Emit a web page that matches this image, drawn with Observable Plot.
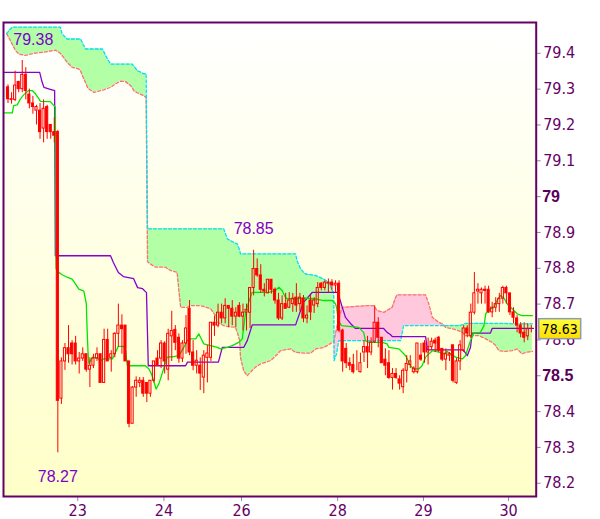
<!DOCTYPE html>
<html><head><meta charset="utf-8">
<script src="https://cdn.jsdelivr.net/npm/d3@7"></script>
<script src="https://cdn.jsdelivr.net/npm/@observablehq/plot@0.6"></script>
<style>
html,body{margin:0;padding:0;background:#fff;}
#chart{width:600px;height:519px;}
</style></head><body><div id="chart"></div>
<script>
// ---- Candles (hourly bars, index 0..147) ----
const opens = [79.305,79.272,79.270,79.320,79.300,79.340,79.285,79.260,79.240,79.240,79.190,79.250,79.200,79.180,79.180,
78.436,78.540,78.577,78.590,78.590,78.540,78.548,78.560,78.517,78.528,78.548,78.560,78.480,78.600,78.550,
78.560,78.617,78.640,78.640,78.540,78.366,78.467,78.480,78.486,78.480,78.450,78.486,78.548,78.548,78.590,
78.517,78.610,78.628,78.606,78.548,78.590,78.687,78.565,78.528,78.528,78.495,78.550,78.550,78.648,78.640,
78.676,78.660,78.695,78.687,78.665,78.695,78.665,78.676,78.676,78.745,78.798,78.780,78.740,78.730,78.768,
78.740,78.710,78.660,78.700,78.690,78.700,78.718,78.700,78.715,78.660,78.710,78.696,78.700,78.757,78.745,
78.757,78.760,78.752,78.757,78.626,78.575,78.535,78.530,78.540,78.510,78.565,78.580,78.565,78.593,78.648,
78.606,78.545,78.535,78.494,78.505,78.490,78.468,78.514,78.530,78.510,78.510,78.556,78.590,78.565,78.580,
78.598,78.606,78.575,78.545,78.556,78.585,78.480,78.540,78.570,78.632,78.610,78.676,78.735,78.730,78.740,
78.740,78.677,78.690,78.700,78.715,78.745,78.730,78.677,78.660,78.640,78.620,78.610,78.630];
const highs = [79.312,79.290,79.350,79.322,79.380,79.360,79.300,79.280,79.255,79.260,79.270,79.255,79.200,79.220,79.185,
78.550,78.590,78.640,78.598,78.610,78.565,78.578,78.560,78.550,78.560,78.578,78.560,78.630,78.630,78.570,
78.620,78.700,78.670,78.640,78.540,78.470,78.497,78.495,78.495,78.480,78.486,78.540,78.570,78.598,78.595,
78.630,78.680,78.640,78.617,78.598,78.668,78.710,78.598,78.570,78.550,78.570,78.584,78.648,78.667,78.700,
78.700,78.715,78.695,78.710,78.690,78.704,78.700,78.700,78.745,78.850,78.826,78.810,78.757,78.768,78.768,
78.745,78.730,78.723,78.730,78.732,78.730,78.757,78.730,78.724,78.695,78.724,78.718,78.760,78.760,78.765,
78.770,78.768,78.765,78.765,78.630,78.590,78.550,78.560,78.570,78.563,78.598,78.610,78.606,78.695,78.662,
78.606,78.575,78.570,78.520,78.520,78.500,78.520,78.556,78.556,78.525,78.590,78.590,78.598,78.605,78.605,
78.605,78.610,78.575,78.575,78.565,78.585,78.548,78.598,78.640,78.640,78.700,78.788,78.757,78.745,78.750,
78.750,78.705,78.718,78.730,78.750,78.750,78.730,78.690,78.668,78.648,78.648,78.645,78.640];
const lows = [79.260,79.258,79.265,79.290,79.290,79.270,79.245,79.230,79.200,79.160,79.150,79.160,79.160,79.150,78.285,
78.420,78.515,78.535,78.530,78.530,78.505,78.540,78.510,78.467,78.520,78.540,78.480,78.480,78.540,78.510,
78.550,78.580,78.560,78.540,78.355,78.366,78.440,78.467,78.440,78.425,78.440,78.480,78.528,78.520,78.505,
78.486,78.540,78.570,78.535,78.537,78.560,78.556,78.514,78.505,78.459,78.450,78.480,78.540,78.610,78.634,
78.645,78.645,78.634,78.640,78.634,78.662,78.625,78.625,78.632,78.723,78.775,78.730,78.720,78.730,78.728,
78.700,78.654,78.654,78.687,78.687,78.677,78.677,78.680,78.648,78.645,78.654,78.674,78.690,78.737,78.737,
78.732,78.737,78.732,78.620,78.510,78.520,78.514,78.505,78.514,78.508,78.537,78.520,78.556,78.590,78.578,
78.535,78.500,78.490,78.460,78.490,78.460,78.450,78.480,78.520,78.505,78.505,78.540,78.535,78.530,78.570,
78.565,78.565,78.540,78.514,78.540,78.480,78.476,78.514,78.565,78.606,78.604,78.670,78.700,78.700,78.700,
78.674,78.662,78.677,78.677,78.700,78.700,78.668,78.645,78.620,78.606,78.592,78.598,78.620];
const closes = [79.272,79.270,79.310,79.300,79.340,79.295,79.260,79.250,79.250,79.180,79.245,79.180,79.180,79.170,78.430,
78.540,78.577,78.560,78.560,78.540,78.548,78.560,78.517,78.528,78.548,78.560,78.480,78.600,78.540,78.560,
78.617,78.640,78.630,78.540,78.366,78.467,78.486,78.486,78.450,78.450,78.486,78.540,78.528,78.590,78.540,
78.617,78.625,78.592,78.548,78.590,78.632,78.565,78.528,78.542,78.506,78.556,78.562,78.648,78.640,78.676,
78.660,78.695,78.687,78.665,78.676,78.665,78.676,78.684,78.745,78.798,78.780,78.740,78.735,78.768,78.740,
78.710,78.660,78.700,78.687,78.710,78.715,78.696,78.718,78.660,78.668,78.677,78.710,78.745,78.745,78.760,
78.760,78.752,78.757,78.626,78.540,78.535,78.528,78.510,78.540,78.535,78.580,78.565,78.593,78.648,78.606,
78.535,78.528,78.494,78.505,78.494,78.478,78.514,78.533,78.540,78.520,78.590,78.545,78.565,78.580,78.595,
78.590,78.570,78.545,78.560,78.560,78.486,78.540,78.585,78.632,78.618,78.676,78.730,78.740,78.740,78.737,
78.677,78.690,78.700,78.715,78.745,78.730,78.677,78.662,78.640,78.618,78.606,78.630,78.630];

// ---- Ichimoku lines: [bar index, price] vertices ----
const kijun = [[-1.26,79.347],[8.9,79.347],[9.6,79.319],[10.1,79.305],[11.4,79.301],[13.1,79.296],[13.3,78.835],
[28.8,78.835],[29.6,78.816],[31.0,78.788],[32.4,78.777],[35.3,78.771],[36.4,78.746],[37.8,78.743],[38.9,78.732],
[39.4,78.528],[49.9,78.528],[50.4,78.538],[59.1,78.538],[60.2,78.579],[66.2,78.579],[67.2,78.598],[68.6,78.642],
[80.8,78.642],[81.2,78.654],[83.0,78.705],[85.5,78.733],[92.6,78.733],[92.9,78.724],[93.9,78.691],[94.8,78.663],
[96.2,78.646],[97.6,78.632],[105.5,78.632],[106.5,78.621],[107.4,78.615],[108.0,78.609],[117.3,78.609],[117.8,78.572],
[127.9,78.572],[129.0,78.556],[129.9,78.579],[130.4,78.619],[135.5,78.619],[136.0,78.632],[147.6,78.632]];
const tenkan = [[-1.26,79.234],[1.2,79.234],[1.6,79.254],[2.6,79.256],[3.5,79.273],[4.4,79.284],[5.8,79.296],[6.8,79.296],
[7.7,79.287],[8.7,79.273],[9.1,79.266],[11.9,79.265],[12.7,79.256],[13.3,79.250],[13.5,78.800],[13.8,78.792],
[15.2,78.782],[16.6,78.775],[18.0,78.770],[19.0,78.756],[19.9,78.742],[21.3,78.736],[22.0,78.701],[22.2,78.635],
[22.5,78.561],[22.7,78.534],[23.7,78.552],[25.1,78.550],[26.0,78.542],[26.9,78.547],[29.3,78.547],[30.2,78.566],
[31.0,78.582],[32.5,78.582],[33.0,78.570],[33.5,78.528],[38.6,78.528],[39.6,78.519],[40.5,78.500],[41.6,78.463],
[42.4,78.478],[43.3,78.506],[44.2,78.535],[44.7,78.552],[46.1,78.553],[48.0,78.556],[49.4,78.579],[50.3,78.598],
[51.3,78.603],[52.7,78.603],[53.6,78.617],[54.1,78.607],[55.0,78.589],[56.9,78.584],[58.8,78.579],[59.7,78.575],
[61.6,78.579],[63.0,78.584],[64.8,78.593],[65.8,78.603],[66.7,78.673],[67.6,78.705],[68.6,78.733],[73.3,78.733],
[75.1,78.738],[76.1,78.747],[77.0,78.738],[77.9,78.719],[78.4,78.715],[81.2,78.715],[83.1,78.717],[85.9,78.715],
[88.7,78.710],[91.1,78.710],[92.0,78.701],[92.3,78.691],[92.8,78.654],[93.7,78.640],[95.7,78.638],[98.5,78.635],
[99.9,78.621],[100.4,78.598],[101.3,78.593],[105.1,78.593],[106.5,78.589],[107.0,78.579],[109.8,78.575],[111.7,78.556],
[113.1,78.528],[114.0,78.519],[115.4,78.519],[116.3,78.528],[117.3,78.552],[119.2,78.570],[121.0,78.566],[122.4,78.561],
[123.4,78.568],[124.3,78.561],[125.7,78.552],[127.6,78.547],[128.5,78.556],[129.9,78.598],[130.8,78.619],[132.7,78.621],
[133.7,78.640],[134.2,78.673],[135.1,78.684],[136.5,78.691],[137.4,78.710],[138.3,78.724],[139.3,78.717],[140.2,78.701],
[141.6,78.687],[143.0,78.673],[144.4,78.668],[147.3,78.668]];
// cloud: [bar index, span A (cyan), span B (salmon)]
const cloud = [[-0.4,79.455,79.455],[0.7,79.468,79.435],[1.2,79.473,79.425],[2.1,79.473,79.408],[3.0,79.473,79.398],
[4.9,79.473,79.394],[7.2,79.473,79.400],[10.1,79.473,79.403],[13.3,79.473,79.409],[14.7,79.473,79.400],[15.2,79.454,79.394],
[16.6,79.440,79.375],[18.0,79.440,79.361],[19.9,79.440,79.356],[20.4,79.440,79.350],[21.1,79.425,79.333],[21.8,79.412,79.318],
[22.4,79.412,79.303],[24.1,79.412,79.291],[26.5,79.412,79.297],[26.9,79.405,79.298],[27.4,79.394,79.300],[28.8,79.370,79.305],
[30.2,79.370,79.315],[31.6,79.370,79.322],[33.0,79.370,79.321],[34.4,79.370,79.310],[34.9,79.370,79.304],[35.3,79.365,79.296],
[36.3,79.352,79.290],[36.7,79.350,79.288],[38.1,79.343,79.282],[38.8,79.343,79.277],[39.2,78.910,78.818],[40.0,78.910,78.812],
[41.4,78.910,78.803],[44.2,78.910,78.803],[45.6,78.910,78.794],[47.5,78.910,78.789],[48.0,78.910,78.738],[48.5,78.910,78.691],
[50.3,78.910,78.691],[51.3,78.910,78.696],[54.1,78.910,78.696],[56.9,78.910,78.687],[58.3,78.910,78.668],[58.8,78.910,78.649],
[60.6,78.910,78.640],[61.6,78.882,78.638],[63.9,78.870,78.635],[64.4,78.868,78.621],[65.1,78.850,78.598],[65.3,78.840,78.552],
[66.2,78.840,78.514],[67.2,78.840,78.500],[68.1,78.840,78.510],[69.5,78.840,78.524],[70.9,78.840,78.533],[73.7,78.840,78.542],
[75.8,78.840,78.561],[76.5,78.840,78.570],[79.4,78.840,78.575],[80.8,78.840,78.565],[81.2,78.821,78.565],[82.2,78.798,78.564],
[83.1,78.788,78.563],[83.6,78.784,78.563],[85.0,78.782,78.563],[86.4,78.780,78.575],[88.7,78.770,78.579],[90.1,78.761,78.587],
[91.1,78.738,78.593],[91.5,78.732,78.593],[91.6,78.542,78.600],[92.3,78.562,78.632],[92.9,78.598,78.660],[93.9,78.598,78.691],
[101.3,78.598,78.696],[102.7,78.598,78.696],[103.7,78.598,78.682],[105.6,78.598,78.677],[107.9,78.598,78.691],[108.9,78.598,78.719],
[109.3,78.598,78.726],[110.3,78.598,78.726],[111.1,78.640,78.726],[117.3,78.640,78.726],[118.2,78.640,78.701],[119.2,78.640,78.663],
[121.0,78.640,78.649],[122.0,78.640,78.645],[122.9,78.640,78.635],[124.8,78.640,78.631],[126.5,78.640,78.626],[127.6,78.642,78.621],
[128.5,78.646,78.612],[132.3,78.646,78.612],[134.2,78.646,78.603],[136.0,78.646,78.593],[137.0,78.646,78.584],[137.9,78.646,78.570],
[139.7,78.646,78.568],[141.6,78.645,78.570],[143.0,78.645,78.575],[144.4,78.645,78.561],[145.3,78.645,78.565],[147.3,78.645,78.568]];

// ---- Axes ----
const dayTicks = [19.6, 43.8, 65.6, 92.6, 116.7, 140.6];
const dayLabels = ["23", "24", "26", "28", "29", "30"];
const priceTicks = [78.2, 78.3, 78.4, 78.6, 78.7, 78.8, 78.9, 79.1, 79.2, 79.3, 79.4];
const boldPriceTicks = [78.5, 79];
const extremeHighs = [{i: 4, price: 79.38, text: "79.38"}, {i: 69, price: 78.85, text: "78.85"}];
const extremeLows = [{i: 14, price: 78.27, text: "78.27"}];
const lastPrice = 78.63;

// ---- Build tables ----
const candles = opens.map((o, i) => ({i, o, h: highs[i], l: lows[i], c: closes[i]}));
const kijunRows = kijun.map(([i, v]) => ({i, v}));
const tenkanRows = tenkan.map(([i, v]) => ({i, v}));
const cloudRows = cloud.map(([i, a, b]) => ({i, a, b}));
const dayLabelMap = new Map(dayTicks.map((t, k) => [t, dayLabels[k]]));
const fmt = d => String(Math.round(d * 10) / 10);

const NARROW = "'Liberation Sans Narrow', 'Arial Narrow', 'DejaVu Sans Condensed', sans-serif";
const REG = "'Liberation Sans', Arial, sans-serif";
const HALF = 0.3;

const plot = Plot.plot({
  width: 600, height: 519,
  marginLeft: 3, marginTop: 22, marginRight: 64.3, marginBottom: 23,
  x: {domain: [-1.264, 148.37]},
  y: {domain: [78.163, 79.486]},
  style: {background: "white", fontFamily: NARROW, fontSize: "16px", overflow: "visible"},
  marks: [
    Plot.frame({fill: "url(#bgGrad)", stroke: "none"}),
    Plot.areaY(cloudRows, {x: "i", y1: "b", y2: d => Math.max(d.a, d.b), fill: "#b3ffa6", curve: "linear"}),
    Plot.areaY(cloudRows, {x: "i", y1: "a", y2: d => Math.max(d.a, d.b), fill: "#ffc8dc", curve: "linear"}),
    Plot.line(cloudRows, {x: "i", y: "b", stroke: "#ff6f6f", strokeWidth: 1.3, strokeDasharray: "3,2"}),
    Plot.line(cloudRows, {x: "i", y: "a", stroke: "#00e0f4", strokeWidth: 1.3, strokeDasharray: "3,2"}),
    Plot.line(kijunRows, {x: "i", y: "v", stroke: "#8a00cc", strokeWidth: 1.3}),
    Plot.line(tenkanRows, {x: "i", y: "v", stroke: "#00e600", strokeWidth: 1.3}),
    Plot.ruleX(candles, {x: "i", y1: "h", y2: d => Math.max(d.o, d.c), stroke: "#ff0000", strokeWidth: 1}),
    Plot.ruleX(candles, {x: "i", y1: d => Math.min(d.o, d.c), y2: "l", stroke: "#ff0000", strokeWidth: 1}),
    Plot.rect(candles, {x1: d => d.i - HALF, x2: d => d.i + HALF, y1: "o", y2: "c",
      fill: d => d.c < d.o ? "#ff0000" : "none", stroke: "#ff0000", strokeWidth: 1}),
    Plot.text(extremeHighs.slice(0, 1), {x: "i", y: "price", text: "text", dy: -21, dx: -9, textAnchor: "start",
      fill: "#8000c8", fontSize: 16, fontFamily: REG}),
    Plot.text(extremeHighs.slice(1), {x: "i", y: "price", text: "text", dy: -21,
      fill: "#8000c8", fontSize: 16, fontFamily: REG}),
    Plot.text(extremeLows, {x: "i", y: "price", text: "text", dy: 19,
      fill: "#8000c8", fontSize: 16, fontFamily: REG}),
    Plot.axisY({anchor: "right", ticks: priceTicks, tickFormat: fmt, tickSize: 4, tickPadding: 3,
      stroke: "#8c8ca0", fill: "#660066", fontSize: 16, fontFamily: NARROW, label: null}),
    Plot.axisY({anchor: "right", ticks: boldPriceTicks, tickFormat: fmt, tickSize: 4, tickPadding: 2,
      stroke: "#8c8ca0", fill: "#5a005a", fontSize: 16, fontWeight: "bold", fontFamily: REG, label: null}),
    Plot.axisX({ticks: dayTicks, tickFormat: d => dayLabelMap.get(d), tickSize: 5, tickPadding: 3,
      stroke: "#8c8ca0", fill: "#660066", fontSize: 16, fontFamily: NARROW, label: null}),
    Plot.frame({stroke: "#660066", strokeWidth: 2})
  ]
});

const svg = d3.select(plot);
const defs = svg.insert("defs", ":first-child");
const g = defs.append("linearGradient").attr("id", "bgGrad").attr("x1", 0).attr("y1", 0).attr("x2", 0).attr("y2", 1);
g.append("stop").attr("offset", "0%").attr("stop-color", "#ffffff");
g.append("stop").attr("offset", "100%").attr("stop-color", "#ffffc8");
const g2 = defs.append("linearGradient").attr("id", "boxGrad").attr("x1", 0).attr("y1", 0).attr("x2", 0).attr("y2", 1);
g2.append("stop").attr("offset", "0%").attr("stop-color", "#ffff40");
g2.append("stop").attr("offset", "100%").attr("stop-color", "#ffdc00");

// current price marker on the right axis (drawn over the axis label, as in the source)
const yPos = plot.scale("y").apply(lastPrice);
const xEdge = plot.scale("x").range[1];
const box = svg.append("g");
box.append("rect").attr("x", xEdge + 3).attr("y", yPos - 10).attr("width", 42).attr("height", 20)
  .attr("fill", "url(#boxGrad)").attr("stroke", "#8a9cb0").attr("stroke-width", 1.5);
box.append("text").attr("x", xEdge + 24).attr("y", yPos).attr("dy", "0.36em").attr("text-anchor", "middle")
  .attr("font-family", NARROW).attr("font-size", 14.5).attr("textLength", 36).attr("lengthAdjust", "spacingAndGlyphs")
  .attr("fill", "#000").text(lastPrice.toFixed(2));

document.getElementById("chart").appendChild(plot);
</script>
</body></html>
